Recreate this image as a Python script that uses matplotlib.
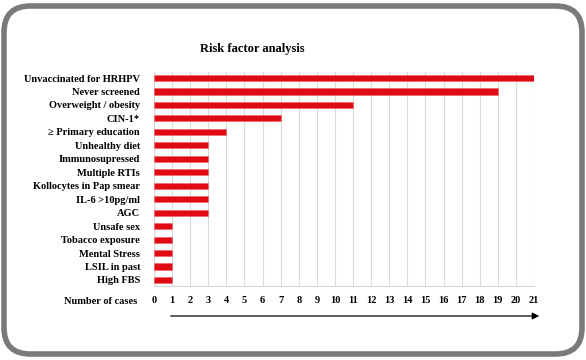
import numpy as np
from matplotlib import pyplot as plt
from matplotlib.patches import FancyBboxPatch, FancyArrowPatch

factors = ["Unvaccinated for HRHPV", "Never screened", "Overweight / obesity", "CIN-1*",
           "\u2265 Primary education", "Unhealthy diet", "Immunosupressed", "Multiple RTIs",
           "Kollocytes in Pap smear", "IL-6 >10pg/ml", "AGC", "Unsafe sex", "Tobacco exposure",
           "Mental Stress", "LSIL in past", "High FBS"]
cases = [21, 19, 11, 7, 4, 3, 3, 3, 3, 3, 3, 1, 1, 1, 1, 1]
ticks = list(range(0, 22))

W, H = 586, 360
plt.rcParams['font.family'] = ['Liberation Serif', 'DejaVu Serif']
plt.rcParams['font.weight'] = 'bold'

fig = plt.figure(figsize=(W / 100, H / 100), dpi=100)

# rounded grey frame
frame = FancyBboxPatch((4 / W, 6 / H), 578 / W, 348 / H,
                       boxstyle="round,pad=0,rounding_size=0.045",
                       transform=fig.transFigure, fill=False,
                       edgecolor='#7a7a7a', linewidth=4, mutation_aspect=W / H)
fig.patches.append(frame)

ax = fig.add_axes([154 / W, 1 - 286 / H, 380 / W, 214 / H])
y = np.arange(len(factors))
ax.barh(y, cases, height=0.45, color='#e00a14', edgecolor='#f06060', linewidth=0.4, zorder=3)
ax.set_ylim(len(factors) - 0.55, -0.45)
ax.set_xlim(0, 21)
ax.set_xticks(ticks)
ax.set_xticklabels([str(t) for t in ticks], fontsize=7.5, fontweight='bold')
ax.set_yticks(y)
ax.set_yticklabels(factors, fontsize=7.5, fontweight='bold')
ax.tick_params(length=0, pad=7, axis='x')
ax.tick_params(length=0, pad=10, axis='y')
ax.grid(axis='x', color='#d9d9d9', linewidth=0.8, zorder=0)
for side in ['top', 'right', 'left']:
    ax.spines[side].set_visible(False)
ax.spines['bottom'].set_color('#d9d9d9')
ax.spines['bottom'].set_linewidth(0.8)

fig.text(252 / W, 1 - 49 / H, "Risk factor analysis", ha='center', va='center',
         fontsize=9, fontweight='bold')
fig.text(101 / W, 1 - 302 / H, "Number of cases", ha='center', va='center',
         fontsize=7.5, fontweight='bold')

arrow = FancyArrowPatch((168 / W, 1 - 316 / H), (542 / W, 1 - 316 / H),
                        transform=fig.transFigure, arrowstyle='-|>,head_length=4,head_width=2',
                        color='black', linewidth=0.9)
fig.patches.append(arrow)

fig.savefig('out.png', dpi=100)
